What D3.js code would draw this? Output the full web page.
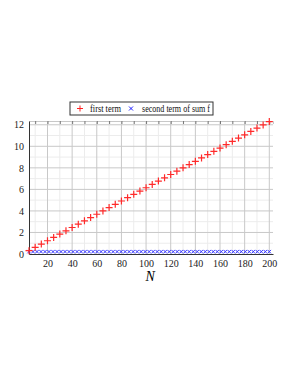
<!DOCTYPE html>
<html>
<head>
<meta charset="utf-8">
<script src="https://cdn.jsdelivr.net/npm/d3@7"></script>
<style>
  body { margin: 0; background: #fff; }
  text { font-family: "Liberation Serif", "DejaVu Serif", serif; }
</style>
</head>
<body>
<div id="chart"></div>
<script>
// sample points N for the first term
var nValues = [5, 10, 15, 20, 25, 30, 35, 40, 45, 50, 55, 60, 65, 70, 75, 80, 85, 90, 95, 100,
  105, 110, 115, 120, 125, 130, 135, 140, 145, 150, 155, 160, 165, 170, 175, 180, 185, 190, 195, 200];
// first term (red +)
var firstTerm = [0.31, 0.62, 0.92, 1.23, 1.54, 1.85, 2.15, 2.46, 2.77, 3.08, 3.38, 3.69, 4.0, 4.31, 4.61, 4.92,
  5.23, 5.54, 5.84, 6.15, 6.46, 6.77, 7.07, 7.38, 7.69, 8.0, 8.3, 8.61, 8.92, 9.23, 9.53, 9.84,
  10.15, 10.46, 10.76, 11.07, 11.38, 11.69, 11.99, 12.3];
// sample points N for the second term (denser)
var nValues2 = [5, 8.25, 11.5, 14.75, 18, 21.25, 24.5, 27.75, 31, 34.25, 37.5, 40.75, 44, 47.25, 50.5,
  53.75, 57, 60.25, 63.5, 66.75, 70, 73.25, 76.5, 79.75, 83, 86.25, 89.5, 92.75, 96, 99.25,
  102.5, 105.75, 109, 112.25, 115.5, 118.75, 122, 125.25, 128.5, 131.75, 135, 138.25, 141.5,
  144.75, 148, 151.25, 154.5, 157.75, 161, 164.25, 167.5, 170.75, 174, 177.25, 180.5, 183.75,
  187, 190.25, 193.5, 196.75, 200];
// second term of sum f (blue x)
var secondTerm = [0.22, 0.22, 0.22, 0.22, 0.22, 0.22, 0.22, 0.22, 0.22, 0.22, 0.22, 0.22, 0.22, 0.22, 0.22,
  0.22, 0.22, 0.22, 0.22, 0.22, 0.22, 0.22, 0.22, 0.22, 0.22, 0.22, 0.22, 0.22, 0.22, 0.22,
  0.22, 0.22, 0.22, 0.22, 0.22, 0.22, 0.22, 0.22, 0.22, 0.22, 0.22, 0.22, 0.22, 0.22, 0.22,
  0.22, 0.22, 0.22, 0.22, 0.22, 0.22, 0.22, 0.22, 0.22, 0.22, 0.22, 0.22, 0.22, 0.22, 0.22, 0.22];
var xTicks = [20, 40, 60, 80, 100, 120, 140, 160, 180, 200];
var yTicks = [0, 2, 4, 6, 8, 10, 12];
var legendLabels = ["first term", "second term of sum f"];

var svgWidth = 298, svgHeight = 385;
var margin = { top: 121, right: 25, bottom: 131, left: 29 };
var width = svgWidth - margin.left - margin.right;
var height = svgHeight - margin.top - margin.bottom;

var svg = d3.select("#chart").append("svg")
  .attr("width", svgWidth)
  .attr("height", svgHeight);

var chartGroup = svg.append("g")
  .attr("transform", `translate(${margin.left}, ${margin.top})`);

var xScale = d3.scaleLinear().domain([5, 203]).range([0, width]);
var yScale = d3.scaleLinear().domain([0, 12.35]).range([height, 0]);

// minor grid
chartGroup.append("g").selectAll("line")
  .data(d3.range(10, 201, 20))
  .enter().append("line")
  .attr("x1", d => xScale(d)).attr("x2", d => xScale(d))
  .attr("y1", 0).attr("y2", height)
  .attr("stroke", "#ececec").attr("stroke-width", 1);
chartGroup.append("g").selectAll("line")
  .data(d3.range(1, 12.1, 2))
  .enter().append("line")
  .attr("x1", 0).attr("x2", width)
  .attr("y1", d => yScale(d)).attr("y2", d => yScale(d))
  .attr("stroke", "#ececec").attr("stroke-width", 1);

// major grid
chartGroup.append("g").selectAll("line")
  .data(xTicks)
  .enter().append("line")
  .attr("x1", d => xScale(d)).attr("x2", d => xScale(d))
  .attr("y1", 0).attr("y2", height)
  .attr("stroke", "#c8c8c8").attr("stroke-width", 1);
chartGroup.append("g").selectAll("line")
  .data(yTicks.slice(1))
  .enter().append("line")
  .attr("x1", 0).attr("x2", width)
  .attr("y1", d => yScale(d)).attr("y2", d => yScale(d))
  .attr("stroke", "#c8c8c8").attr("stroke-width", 1);

// top ticks
chartGroup.append("g")
  .call(d3.axisTop(xScale).tickValues(d3.range(10, 201, 10)).tickSize(-3).tickFormat(""))
  .call(g => g.select(".domain").attr("stroke", "#c8c8c8"))
  .call(g => g.selectAll(".tick line").attr("stroke", "#777"));

var bottomAxis = d3.axisBottom(xScale).tickValues(xTicks).tickSize(0).tickPadding(6);
var leftAxis = d3.axisLeft(yScale).tickValues(yTicks).tickSize(0).tickPadding(5);

chartGroup.append("g")
  .attr("transform", `translate(0, ${height})`)
  .call(bottomAxis)
  .call(g => g.select(".domain").attr("stroke", "#333"))
  .call(g => g.selectAll("text").attr("font-size", 10).attr("fill", "#222")
    .attr("font-family", "Liberation Serif"));

chartGroup.append("g")
  .call(leftAxis)
  .call(g => g.select(".domain").attr("stroke", "#333"))
  .call(g => g.selectAll("text").attr("font-size", 10).attr("fill", "#222")
    .attr("font-family", "Liberation Serif"));

// blue x markers
chartGroup.append("g").selectAll("path")
  .data(nValues2)
  .enter().append("path")
  .attr("d", "M-1.7,-1.7L1.7,1.7M-1.7,1.7L1.7,-1.7")
  .attr("transform", (d, i) => `translate(${xScale(d)}, ${yScale(secondTerm[i])})`)
  .attr("stroke", "#3535ff").attr("stroke-width", 1).attr("fill", "none");

// red plus markers
chartGroup.append("g").selectAll("path")
  .data(nValues)
  .enter().append("path")
  .attr("d", "M-3.5,0H3.5M0,-3.5V3.5")
  .attr("transform", (d, i) => `translate(${xScale(d)}, ${yScale(firstTerm[i])})`)
  .attr("stroke", "#ff2a2a").attr("stroke-width", 1.2).attr("fill", "none");

// x axis title
chartGroup.append("text")
  .attr("x", xScale(100) + 4)
  .attr("y", height + 27)
  .attr("text-anchor", "middle")
  .attr("font-size", 14)
  .attr("font-style", "italic")
  .text("N");

// legend
var legend = svg.append("g").attr("transform", "translate(70, 102)");
legend.append("rect")
  .attr("width", 143).attr("height", 13)
  .attr("fill", "#fff").attr("stroke", "#333");
legend.append("path")
  .attr("d", "M7,6.5H13M10,3.5V9.5")
  .attr("stroke", "#ff2020").attr("fill", "none");
legend.append("text")
  .attr("x", 20).attr("y", 10)
  .attr("font-size", 9.5).attr("fill", "#111")
  .attr("textLength", 31).attr("lengthAdjust", "spacingAndGlyphs")
  .text(legendLabels[0]);
legend.append("path")
  .attr("d", "M59,4.5L63,8.5M59,8.5L63,4.5")
  .attr("stroke", "#2020ff").attr("fill", "none");
legend.append("text")
  .attr("x", 72).attr("y", 10)
  .attr("font-size", 9.5).attr("fill", "#111")
  .attr("textLength", 68).attr("lengthAdjust", "spacingAndGlyphs")
  .text(legendLabels[1]);
</script>
</body>
</html>
